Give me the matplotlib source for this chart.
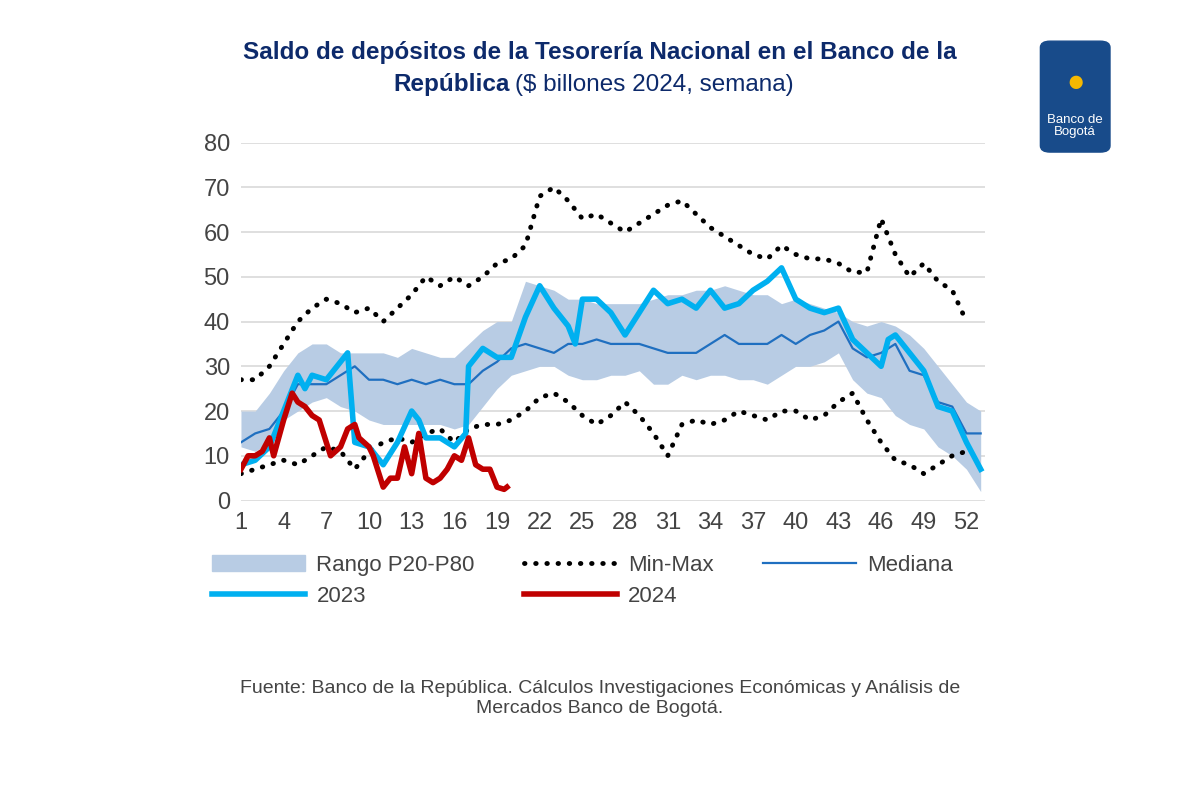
import matplotlib.pyplot as plt
from matplotlib.patches import FancyBboxPatch
from matplotlib.lines import Line2D
from matplotlib.patches import Patch

plt.rcParams['font.family'] = ['Liberation Sans', 'DejaVu Sans']

weeks = list(range(1, 54))
p20 = [12, 11, 13, 18, 20, 22, 23, 21, 20, 18, 17, 17, 17, 17, 17, 16, 17, 21, 25, 28, 29, 30, 30, 28, 27, 27,
       28, 28, 29, 26, 26, 28, 27, 28, 28, 27, 27, 26, 28, 30, 30, 31, 33, 27, 24, 23, 19, 17, 16, 12, 10, 7, 2]
p80 = [20, 20, 24, 29, 33, 35, 35, 33, 33, 33, 33, 32, 34, 33, 32, 32, 35, 38, 40, 40, 49, 48, 47, 45, 45, 44,
       44, 44, 44, 45, 46, 46, 47, 47, 48, 47, 46, 46, 44, 45, 44, 43, 42, 40, 39, 40, 39, 37, 34, 30, 26, 22, 20]
mediana = [13, 15, 16, 20, 26, 26, 26, 28, 30, 27, 27, 26, 27, 26, 27, 26, 26, 29, 31, 34, 35, 34, 33, 35, 35, 36,
           35, 35, 35, 34, 33, 33, 33, 35, 37, 35, 35, 35, 37, 35, 37, 38, 40, 34, 32, 33, 35, 29, 28, 22, 21, 15, 15]
max_weeks = list(range(1, 53))
maximo = [27, 27, 30, 35, 40, 43, 45, 44, 42, 43, 40, 43, 46, 50, 48, 50, 48, 50, 53, 54, 57, 68, 70, 67, 63, 64,
          62, 60, 62, 64, 66, 67, 64, 61, 59, 57, 55, 54, 57, 55, 54, 54, 53, 51, 51, 63, 55, 50, 53, 49, 47, 40]
minimo = [6, 7, 8, 9, 8, 10, 12, 11, 7, 11, 13, 14, 13, 15, 16, 13, 16, 17, 17, 18, 20, 23, 24, 22, 19, 17,
          19, 22, 19, 15, 10, 17, 18, 17, 18, 20, 19, 18, 20, 20, 18, 19, 22, 24, 18, 13, 9, 8, 6, 8, 10, 11]
x2023 = [1, 2, 3, 4, 5, 5.5, 6, 7, 8, 8.5, 9, 10, 11, 12, 13, 13.5, 14, 15, 16, 16.8, 17, 18, 19, 20, 21, 22, 23,
         24, 24.5, 25, 26, 27, 28, 29, 30, 31, 32, 33, 34, 35, 36, 37, 38, 39, 40, 41, 42, 43, 44, 45, 46, 46.5,
         47, 48, 49, 50, 51, 52, 53]
y2023 = [8, 9, 12, 20, 28, 25, 28, 27, 31, 33, 13, 12, 8, 13, 20, 18, 14, 14, 12, 15, 30, 34, 32, 32, 41, 48, 43,
         39, 35, 45, 45, 42, 37, 42, 47, 44, 45, 43, 47, 43, 44, 47, 49, 52, 45, 43, 42, 43, 36, 33, 30, 36,
         37, 33, 29, 21, 20, 13, 7]
x2024 = [1, 1.5, 2, 2.5, 3, 3.3, 4, 4.6, 5, 5.5, 6, 6.5, 7, 7.3, 8, 8.5, 9, 9.3, 10, 10.3, 11, 11.5, 12, 12.5,
         13, 13.5, 14, 14.5, 15, 15.5, 16, 16.5, 17, 17.5, 18, 18.5, 19, 19.5, 19.7]
y2024 = [7, 10, 10, 11, 14, 10, 18, 24, 22, 21, 19, 18, 13, 10, 12, 16, 17, 14, 12, 10, 3, 5, 5, 12, 6, 15, 5, 4,
         5, 7, 10, 9, 14, 8, 7, 7, 3, 2.5, 3]

fig = plt.figure(figsize=(12, 7.92), dpi=100)
ax = fig.add_axes([0.2008, 0.368, 0.62, 0.452])

dots = dict(ls=(0, (0.1, 2.2)), lw=3.5, color='black', dash_capstyle='round')
ax.fill_between(weeks, p20, p80, color='#b8cce4', lw=0)
ax.plot(max_weeks, maximo, **dots)
ax.plot(max_weeks, minimo, **dots)
ax.plot(weeks, mediana, color='#1f6fc0', lw=1.6)
ax.plot(x2023, y2023, color='#00b0f0', lw=4)
ax.plot(x2024, y2024, color='#c00000', lw=4)

ax.set_xlim(1, 53.3)
ax.set_ylim(0, 80)
ax.set_yticks(range(0, 81, 10))
ax.set_xticks(range(1, 53, 3))
ax.tick_params(labelsize=17, colors='#444444', length=0, pad=8)
ax.grid(axis='y', color='#d9d9d9', lw=1.2)
ax.set_axisbelow(True)
for s in ax.spines.values():
    s.set_visible(False)

# column-wise fill so rows read: Rango, Min-Max, Mediana / 2023, 2024
handles = [Patch(color='#b8cce4'), Line2D([], [], color='#00b0f0', lw=4),
           Line2D([], [], **dots), Line2D([], [], color='#c00000', lw=4),
           Line2D([], [], color='#1f6fc0', lw=1.6)]
labels = ['Rango P20-P80', '2023', 'Min-Max', '2024', 'Mediana']
fig.legend(handles, labels, loc='upper left', bbox_to_anchor=(0.16, 0.325), ncol=3, frameon=False,
           fontsize=16, handlelength=4.2, columnspacing=2.2, labelcolor='#444444', labelspacing=0.45,
           handletextpad=0.5)

fig.text(0.5, 0.925, 'Saldo de depósitos de la Tesorería Nacional en el Banco de la',
         ha='center', fontsize=17.5, fontweight='bold', color='#0d2a6b')
fig.text(0.425, 0.885, 'República', ha='right', fontsize=17.5, fontweight='bold', color='#0d2a6b')
fig.text(0.429, 0.885, '($ billones 2024, semana)', ha='left', fontsize=17.5, color='#0d2a6b')

fig.text(0.5, 0.1, 'Fuente: Banco de la República. Cálculos Investigaciones Económicas y Análisis de\n'
         'Mercados Banco de Bogotá.', ha='center', fontsize=14, color='#444444', linespacing=1.2)

logo = FancyBboxPatch((0.867, 0.808), 0.058, 0.14, boxstyle='round,pad=0,rounding_size=0.008',
                      transform=fig.transFigure, color='#184b8a')
fig.patches.append(logo)
fig.text(0.896, 0.885, '●', ha='center', fontsize=22, color='#f5b800')
fig.text(0.896, 0.83, 'Banco de\nBogotá', ha='center', fontsize=9.5, color='white', linespacing=1.0)

fig.savefig('out.png')
